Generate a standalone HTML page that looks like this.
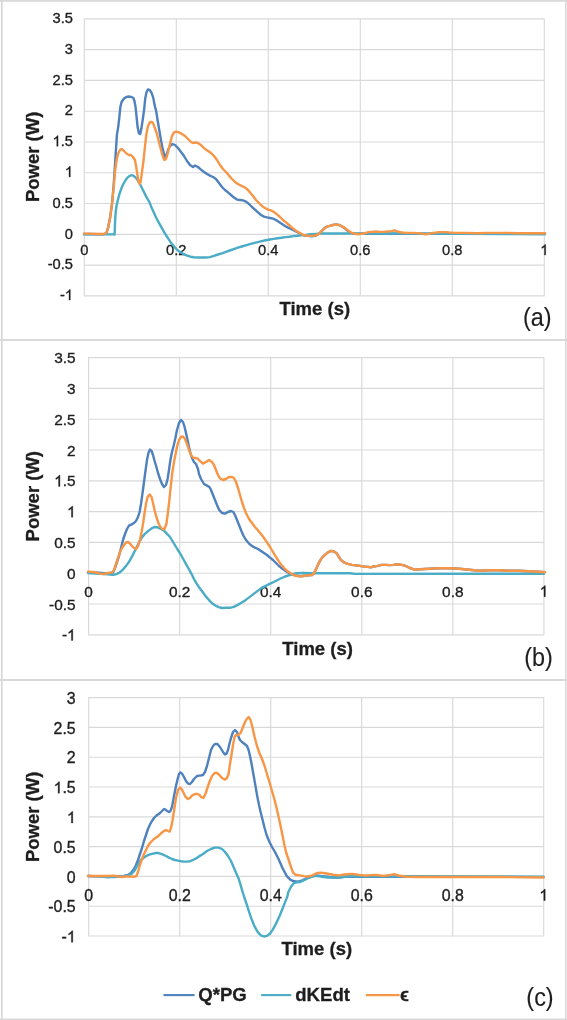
<!DOCTYPE html>
<html><head><meta charset="utf-8"><style>
html,body{margin:0;padding:0;background:#fff;}
body{width:567px;height:1020px;overflow:hidden;}
svg{display:block;will-change:transform;}
text{font-family:"Liberation Sans",sans-serif;}
</style></head><body>
<svg width="567" height="1020" viewBox="0 0 567 1020">
<rect x="0" y="0" width="567" height="1020" fill="#fff"/>

<g stroke="#D9D9D9" fill="none">
<line x1="1.8" y1="0" x2="1.8" y2="1020" stroke-width="1.8"/>
<line x1="565.8" y1="0" x2="565.8" y2="1020" stroke-width="1.6"/>
<line x1="0" y1="0.9" x2="567" y2="0.9" stroke-width="1.8"/>
<line x1="0" y1="340.0" x2="567" y2="340.0" stroke-width="2"/>
<line x1="0" y1="680.0" x2="567" y2="680.0" stroke-width="2"/>
<line x1="0" y1="1019.2" x2="567" y2="1019.2" stroke-width="1.6"/>
</g>
<g stroke="#D9D9D9" stroke-width="1.15" fill="none">
<line x1="84.3" y1="295.85" x2="544.3" y2="295.85"/>
<line x1="84.3" y1="265.07" x2="544.3" y2="265.07"/>
<line x1="84.3" y1="234.3" x2="544.3" y2="234.3"/>
<line x1="84.3" y1="203.53" x2="544.3" y2="203.53"/>
<line x1="84.3" y1="172.75" x2="544.3" y2="172.75"/>
<line x1="84.3" y1="141.98" x2="544.3" y2="141.98"/>
<line x1="84.3" y1="111.2" x2="544.3" y2="111.2"/>
<line x1="84.3" y1="80.43" x2="544.3" y2="80.43"/>
<line x1="84.3" y1="49.65" x2="544.3" y2="49.65"/>
<line x1="84.3" y1="18.88" x2="544.3" y2="18.88"/>
<line x1="84.3" y1="18.38" x2="84.3" y2="296.35"/>
<line x1="176.3" y1="18.38" x2="176.3" y2="296.35"/>
<line x1="268.3" y1="18.38" x2="268.3" y2="296.35"/>
<line x1="360.3" y1="18.38" x2="360.3" y2="296.35"/>
<line x1="452.3" y1="18.38" x2="452.3" y2="296.35"/>
<line x1="544.3" y1="18.38" x2="544.3" y2="296.35"/>
</g>
<g fill="#1E1E1E" font-size="14.7px" stroke="#1E1E1E" stroke-width="0.35">
<text x="73.0" y="300.1" text-anchor="end">-<tspan fill="transparent" stroke="none">1</tspan></text>
<text x="73.0" y="269.3" text-anchor="end">-0.5</text>
<text x="73.0" y="238.5" text-anchor="end">0</text>
<text x="73.0" y="207.7" text-anchor="end">0.5</text>
<text x="73.0" y="176.9" text-anchor="end"><tspan fill="transparent" stroke="none">1</tspan></text>
<text x="73.0" y="146.2" text-anchor="end"><tspan fill="transparent" stroke="none">1</tspan>.5</text>
<text x="73.0" y="115.4" text-anchor="end">2</text>
<text x="73.0" y="84.6" text-anchor="end">2.5</text>
<text x="73.0" y="53.9" text-anchor="end">3</text>
<text x="73.0" y="23.1" text-anchor="end">3.5</text>
<text x="84.3" y="255.0" text-anchor="middle">0</text>
<text x="176.3" y="255.0" text-anchor="middle">0.2</text>
<text x="268.3" y="255.0" text-anchor="middle">0.4</text>
<text x="360.3" y="255.0" text-anchor="middle">0.6</text>
<text x="452.3" y="255.0" text-anchor="middle">0.8</text>
<text x="544.3" y="255.0" text-anchor="middle"><tspan fill="transparent" stroke="none">1</tspan></text>
</g>
<text x="314.8" y="314.6" text-anchor="middle" font-size="18.5px" font-weight="bold" fill="#1E1E1E" stroke="#1E1E1E" stroke-width="0.3">Time (s)</text>
<text transform="translate(39.0,156.9) rotate(-90)" x="0" y="0" text-anchor="middle" font-size="18.5px" font-weight="bold" fill="#1E1E1E" stroke="#1E1E1E" stroke-width="0.3">Power (W)</text>
<text transform="translate(537.2,326.1) scale(0.9,1)" text-anchor="middle" font-size="26px" fill="#1E1E1E" stroke="#1E1E1E" stroke-width="0.15">(a)</text>
<path d="M84.0,234.0 L104.0,234.2 L106.4,233.2 L108.0,228.2 L110.0,218.2 L112.0,204.2 L113.6,186.0 L115.4,158.4 L116.2,145.9 L116.9,134.9 L118.2,127.1 L119.3,117.6 L120.4,106.7 L121.6,102.0 L124.0,98.5 L126.4,96.9 L128.7,96.5 L131.1,96.9 L133.4,98.0 L134.5,101.2 L135.5,106.7 L136.5,116.1 L137.6,127.1 L138.9,133.3 L140.2,134.1 L141.4,128.6 L142.8,119.2 L144.1,109.8 L145.2,98.8 L146.4,92.5 L148.0,89.4 L149.9,90.2 L151.8,93.3 L153.3,98.0 L154.6,105.1 L156.2,111.4 L157.7,120.8 L159.3,130.2 L160.9,139.6 L162.4,147.5 L165.0,158.0 L166.4,155.0 L168.0,150.0 L170.0,146.0 L172.4,144.0 L175.0,145.0 L178.0,148.0 L181.0,152.0 L184.0,156.0 L187.0,161.0 L190.0,165.0 L193.0,167.0 L195.0,165.6 L198.0,167.0 L201.0,169.6 L204.0,172.0 L207.0,174.0 L210.0,175.6 L213.0,177.0 L216.0,179.0 L219.0,183.0 L222.0,187.0 L225.0,190.0 L228.0,192.4 L231.0,195.0 L234.0,197.6 L237.0,199.6 L240.0,200.0 L243.0,200.4 L246.0,201.6 L249.0,204.0 L252.0,207.0 L255.0,209.6 L258.0,212.4 L261.0,215.0 L264.0,216.6 L267.0,217.4 L270.0,218.0 L273.0,218.6 L276.0,220.0 L279.0,222.0 L282.0,224.0 L285.0,226.0 L288.0,227.6 L291.0,229.0 L294.0,230.4 L297.0,232.0 L300.0,233.4 L303.9,235.5 L307.9,235.9 L311.9,236.3 L315.9,235.5 L318.9,233.9 L321.9,230.9 L324.9,227.9 L327.8,226.3 L331.8,225.3 L335.8,224.5 L338.8,224.9 L341.8,226.3 L344.8,228.3 L347.8,230.9 L350.8,232.9 L353.7,233.5 L361.7,233.7 L373.7,233.7 L402.9,233.7 L545.0,233.7" fill="none" stroke="#4F81BD" stroke-width="2.4" stroke-linejoin="round" stroke-linecap="round"/>
<path d="M84.0,234.4 L114.0,234.4 L114.6,234.5 L115.1,221.2 L115.7,211.8 L116.6,205.5 L117.7,200.8 L119.3,194.5 L120.9,189.8 L122.4,185.9 L124.5,182.0 L126.4,178.8 L128.7,176.5 L131.1,175.2 L133.4,175.7 L135.8,177.6 L138.1,180.9 L139.7,183.5 L142.0,188.2 L144.4,192.9 L146.7,197.6 L149.2,201.6 L151.3,206.9 L153.5,211.7 L155.6,216.5 L157.7,220.7 L159.8,224.4 L161.9,228.1 L164.0,231.8 L166.2,235.5 L168.3,238.7 L170.4,241.9 L172.5,244.5 L174.6,247.1 L176.7,249.3 L178.9,251.2 L181.0,252.6 L183.1,253.8 L185.2,254.8 L187.3,255.6 L190.5,256.7 L193.7,257.3 L197.9,257.5 L205.0,257.5 L205.9,257.5 L209.9,257.1 L213.9,255.9 L217.9,254.5 L221.9,253.3 L225.9,251.9 L229.8,250.5 L233.8,249.1 L237.8,247.7 L241.8,246.5 L245.8,245.3 L249.8,244.1 L253.7,243.1 L257.7,242.1 L261.7,241.1 L265.7,240.3 L269.7,239.5 L273.7,238.9 L277.6,238.3 L281.6,237.7 L285.6,237.1 L289.6,236.7 L293.6,236.1 L297.6,235.7 L302.9,235.1 L305.9,234.9 L309.9,234.3 L315.9,233.9 L321.9,233.5 L329.8,233.5 L402.9,233.5 L545.0,234.2" fill="none" stroke="#4BACC6" stroke-width="2.4" stroke-linejoin="round" stroke-linecap="round"/>
<path d="M84.0,233.6 L90.0,233.6 L96.0,234.0 L104.0,234.0 L106.4,233.0 L108.0,228.0 L110.0,218.0 L112.0,204.0 L114.0,184.0 L115.0,172.0 L116.0,164.0 L117.0,158.0 L118.4,153.0 L120.0,150.0 L121.6,149.0 L123.0,150.0 L125.0,152.0 L127.0,154.0 L129.0,155.0 L131.0,155.0 L133.0,157.0 L135.0,160.0 L136.4,168.0 L137.6,176.0 L138.6,182.0 L139.6,184.0 L140.6,182.0 L142.0,172.0 L143.6,160.0 L145.0,146.0 L146.4,134.0 L148.0,126.0 L150.0,122.0 L152.0,122.0 L153.6,124.4 L155.2,129.0 L157.0,134.0 L158.4,140.0 L160.0,146.0 L161.6,152.0 L163.0,157.0 L164.4,160.0 L166.0,159.0 L167.6,154.0 L169.0,148.0 L170.4,142.0 L172.0,136.0 L174.0,132.4 L176.4,131.6 L179.0,132.4 L182.0,134.0 L185.0,136.0 L188.0,139.0 L191.0,142.0 L193.0,143.0 L196.0,142.4 L199.0,143.6 L202.0,146.0 L205.0,149.0 L208.0,151.0 L211.0,153.0 L214.0,156.0 L217.0,160.0 L220.0,165.0 L223.0,169.0 L226.0,172.0 L229.0,175.6 L232.0,179.0 L235.0,182.0 L238.0,184.0 L241.0,185.6 L244.0,187.0 L247.0,189.0 L250.0,192.4 L253.0,196.0 L256.0,200.0 L259.0,203.0 L262.0,206.0 L265.0,208.0 L268.0,209.6 L271.0,210.4 L274.0,212.0 L277.0,214.4 L280.0,217.0 L283.0,220.0 L286.0,222.4 L289.0,225.0 L292.0,227.6 L295.0,230.0 L298.0,232.0 L302.0,234.3 L305.9,235.5 L309.9,235.9 L312.9,235.9 L315.9,235.3 L318.9,233.9 L321.9,230.9 L324.9,227.9 L327.8,226.3 L331.8,225.3 L335.8,224.5 L338.8,224.9 L341.8,226.3 L344.8,227.9 L347.8,230.3 L350.8,232.3 L353.7,233.5 L357.7,234.3 L360.7,233.9 L363.7,233.5 L367.7,232.3 L371.7,231.9 L375.7,231.5 L379.6,231.9 L383.6,231.9 L387.6,231.5 L391.6,231.1 L394.6,230.3 L397.6,231.5 L400.6,232.3 L405.1,232.9 L412.8,232.9 L420.5,233.4 L425.6,234.4 L430.7,233.4 L438.4,232.1 L446.0,232.1 L453.7,232.9 L466.5,232.9 L476.7,233.2 L487.0,232.9 L497.2,232.9 L507.4,232.9 L517.6,233.2 L527.9,233.2 L538.1,233.2 L545.0,233.2" fill="none" stroke="#F79646" stroke-width="2.4" stroke-linejoin="round" stroke-linecap="round"/>
<g stroke="#D9D9D9" stroke-width="1.15" fill="none">
<line x1="88.6" y1="634.8" x2="543.9" y2="634.8"/>
<line x1="88.6" y1="604.0" x2="543.9" y2="604.0"/>
<line x1="88.6" y1="573.2" x2="543.9" y2="573.2"/>
<line x1="88.6" y1="542.4" x2="543.9" y2="542.4"/>
<line x1="88.6" y1="511.6" x2="543.9" y2="511.6"/>
<line x1="88.6" y1="480.8" x2="543.9" y2="480.8"/>
<line x1="88.6" y1="450.0" x2="543.9" y2="450.0"/>
<line x1="88.6" y1="419.2" x2="543.9" y2="419.2"/>
<line x1="88.6" y1="388.4" x2="543.9" y2="388.4"/>
<line x1="88.6" y1="357.6" x2="543.9" y2="357.6"/>
<line x1="88.6" y1="357.10" x2="88.6" y2="635.30"/>
<line x1="179.66" y1="357.10" x2="179.66" y2="635.30"/>
<line x1="270.72" y1="357.10" x2="270.72" y2="635.30"/>
<line x1="361.78" y1="357.10" x2="361.78" y2="635.30"/>
<line x1="452.84" y1="357.10" x2="452.84" y2="635.30"/>
<line x1="543.9" y1="357.10" x2="543.9" y2="635.30"/>
</g>
<g fill="#1E1E1E" font-size="15.4px" stroke="#1E1E1E" stroke-width="0.35">
<text x="75.6" y="640.4" text-anchor="end">-<tspan fill="transparent" stroke="none">1</tspan></text>
<text x="75.6" y="609.6" text-anchor="end">-0.5</text>
<text x="75.6" y="578.8" text-anchor="end">0</text>
<text x="75.6" y="548.0" text-anchor="end">0.5</text>
<text x="75.6" y="517.2" text-anchor="end"><tspan fill="transparent" stroke="none">1</tspan></text>
<text x="75.6" y="486.4" text-anchor="end"><tspan fill="transparent" stroke="none">1</tspan>.5</text>
<text x="75.6" y="455.6" text-anchor="end">2</text>
<text x="75.6" y="424.8" text-anchor="end">2.5</text>
<text x="75.6" y="394.0" text-anchor="end">3</text>
<text x="75.6" y="363.2" text-anchor="end">3.5</text>
<text x="88.6" y="596.7" text-anchor="middle">0</text>
<text x="179.7" y="596.7" text-anchor="middle">0.2</text>
<text x="270.7" y="596.7" text-anchor="middle">0.4</text>
<text x="361.8" y="596.7" text-anchor="middle">0.6</text>
<text x="452.8" y="596.7" text-anchor="middle">0.8</text>
<text x="543.9" y="596.7" text-anchor="middle"><tspan fill="transparent" stroke="none">1</tspan></text>
</g>
<text x="317.6" y="654.6" text-anchor="middle" font-size="18.5px" font-weight="bold" fill="#1E1E1E" stroke="#1E1E1E" stroke-width="0.3">Time (s)</text>
<text transform="translate(39.3,496.2) rotate(-90)" x="0" y="0" text-anchor="middle" font-size="18.5px" font-weight="bold" fill="#1E1E1E" stroke="#1E1E1E" stroke-width="0.3">Power (W)</text>
<text transform="translate(538.6,666.0) scale(0.9,1)" text-anchor="middle" font-size="26px" fill="#1E1E1E" stroke="#1E1E1E" stroke-width="0.15">(b)</text>
<path d="M88.0,572.4 L96.0,572.4 L104.0,573.2 L110.0,573.2 L113.0,572.4 L115.0,568.0 L117.0,562.0 L119.0,556.0 L121.0,548.0 L123.0,540.0 L125.0,534.0 L127.0,529.0 L129.0,525.6 L131.6,524.4 L134.0,523.0 L136.0,521.0 L138.0,517.0 L139.6,512.0 L141.0,504.0 L142.4,494.0 L144.0,482.0 L145.6,470.0 L147.0,460.0 L148.4,453.0 L150.0,449.6 L151.6,451.0 L153.0,455.0 L154.6,461.0 L156.4,467.0 L158.0,473.0 L160.0,479.0 L162.0,484.0 L164.0,487.0 L166.0,485.0 L167.6,479.0 L169.0,470.0 L170.4,460.0 L172.0,452.0 L173.6,446.0 L175.2,439.0 L177.0,430.0 L179.0,423.0 L181.0,420.0 L183.0,422.0 L184.6,427.0 L186.0,433.0 L187.6,440.0 L189.0,447.0 L190.4,453.0 L192.0,458.0 L194.0,462.0 L196.0,464.0 L198.0,469.0 L199.0,474.0 L201.0,479.0 L204.0,484.0 L207.0,485.6 L209.4,487.0 L211.0,490.0 L213.0,495.0 L215.0,500.0 L217.0,505.0 L219.0,509.6 L222.0,513.0 L225.0,513.6 L228.0,512.0 L231.0,511.0 L233.4,512.0 L235.4,516.0 L237.4,521.0 L239.4,526.0 L241.4,531.0 L243.4,535.6 L246.0,540.0 L249.0,543.6 L252.0,546.0 L255.0,547.6 L258.0,549.0 L261.0,551.0 L264.0,553.0 L267.0,555.0 L270.0,557.6 L273.0,560.0 L276.0,563.0 L279.0,566.0 L282.0,568.4 L285.0,570.4 L288.0,572.4 L291.0,574.0 L294.0,575.0 L297.0,575.6 L300.0,576.4 L303.0,576.0 L304.0,575.8 L308.0,575.4 L312.0,575.0 L313.9,573.4 L315.9,569.4 L317.9,564.9 L319.9,560.9 L321.9,557.9 L324.9,554.9 L327.9,552.3 L330.9,550.9 L333.9,551.5 L336.9,553.5 L338.8,556.9 L340.8,559.9 L343.8,562.3 L347.8,563.9 L351.8,564.9 L355.8,565.3 L359.8,565.9 L363.7,566.5 L367.7,566.9 L370.7,567.3 L373.7,566.5 L377.7,565.9 L381.7,564.9 L385.7,564.9 L389.6,565.1 L393.6,564.9 L397.6,564.3 L401.6,564.9 L404.6,565.5 L407.6,566.9 L409.9,567.8 L414.9,569.8 L419.8,569.3 L429.7,568.8 L439.6,568.3 L449.4,568.3 L459.3,568.8 L469.2,569.8 L479.1,570.7 L489.0,570.2 L498.8,570.2 L508.7,570.7 L518.6,570.7 L528.5,571.2 L538.3,571.7 L545.0,572.2" fill="none" stroke="#4F81BD" stroke-width="2.4" stroke-linejoin="round" stroke-linecap="round"/>
<path d="M88.0,573.0 L96.0,573.6 L104.0,574.0 L108.0,574.4 L110.0,574.6 L113.2,574.9 L116.3,574.1 L119.5,572.5 L122.7,569.8 L125.9,566.1 L129.0,561.9 L132.2,556.1 L135.4,549.7 L138.6,543.4 L141.7,537.6 L144.9,533.9 L148.1,531.2 L151.3,528.6 L154.4,527.0 L157.6,527.3 L160.8,528.8 L164.0,530.7 L167.1,533.9 L170.0,537.0 L177.9,550.0 L180.6,554.2 L183.2,559.0 L185.9,563.8 L188.5,568.5 L191.2,573.3 L193.8,578.6 L196.5,583.3 L199.6,588.1 L202.8,592.3 L206.0,596.6 L209.2,600.3 L212.3,603.4 L215.5,605.6 L218.7,607.1 L221.9,608.0 L225.9,607.8 L229.8,607.8 L233.8,606.9 L237.8,604.9 L241.8,602.5 L245.8,599.9 L249.8,596.9 L253.7,593.9 L257.7,590.9 L261.7,587.9 L265.7,585.9 L269.7,583.9 L273.7,582.0 L277.6,580.0 L281.6,578.0 L285.6,576.4 L289.6,575.0 L293.6,573.8 L297.6,573.2 L302.9,573.0 L312.0,573.2 L350.0,573.3 L355.0,573.9 L543.9,573.8" fill="none" stroke="#4BACC6" stroke-width="2.4" stroke-linejoin="round" stroke-linecap="round"/>
<path d="M88.0,571.6 L94.0,572.0 L100.0,573.6 L104.0,574.0 L108.0,573.0 L112.0,572.4 L114.0,570.0 L116.0,564.0 L118.0,558.0 L120.0,552.0 L122.0,548.0 L124.0,545.0 L126.0,542.4 L128.0,542.0 L130.0,543.6 L132.0,546.0 L134.0,548.0 L136.0,549.0 L138.0,546.0 L140.0,540.0 L141.6,532.0 L143.0,524.0 L144.4,514.0 L146.0,504.0 L147.6,497.0 L149.6,494.4 L151.6,497.0 L153.2,504.0 L154.8,511.0 L156.4,517.0 L158.4,523.0 L160.4,527.0 L162.4,529.0 L164.4,529.0 L166.4,524.0 L168.0,512.0 L169.6,498.0 L171.0,484.0 L172.4,472.0 L174.0,462.0 L175.6,454.0 L177.2,446.0 L179.0,440.0 L181.0,437.0 L183.0,436.4 L185.0,439.0 L187.0,444.0 L189.0,450.0 L191.0,455.0 L193.0,457.6 L195.0,458.0 L197.0,458.4 L197.4,458.4 L200.0,461.0 L203.0,463.6 L206.0,462.0 L209.0,460.0 L212.0,462.0 L214.0,465.0 L216.0,470.0 L218.0,475.0 L220.0,478.4 L223.0,480.0 L226.0,479.0 L229.0,477.0 L232.0,477.0 L234.0,478.0 L236.0,482.0 L238.0,488.0 L240.0,495.0 L242.0,502.0 L244.0,508.0 L246.0,513.0 L249.0,519.0 L252.0,523.0 L255.0,527.0 L258.0,530.4 L261.0,534.0 L264.0,538.0 L267.0,542.4 L270.0,547.0 L273.0,552.0 L276.0,557.0 L279.0,561.6 L282.0,565.6 L285.0,569.0 L288.0,571.6 L291.0,573.6 L294.0,575.0 L297.0,576.0 L300.0,576.4 L303.0,576.0 L304.0,575.8 L308.0,575.4 L312.0,575.0 L313.9,573.4 L315.9,569.4 L317.9,564.9 L319.9,560.9 L321.9,557.9 L324.9,554.9 L327.9,552.3 L330.9,550.9 L333.9,551.5 L336.9,553.5 L338.8,556.9 L340.8,559.9 L343.8,562.3 L347.8,563.9 L351.8,564.9 L355.8,565.3 L359.8,565.9 L363.7,566.5 L367.7,566.9 L370.7,567.3 L373.7,566.5 L377.7,565.9 L381.7,564.9 L385.7,564.9 L389.6,565.1 L393.6,564.9 L397.6,564.3 L401.6,564.9 L404.6,565.5 L407.6,566.9 L409.9,567.8 L414.9,569.8 L419.8,569.3 L429.7,568.8 L439.6,568.3 L449.4,568.3 L459.3,568.8 L469.2,569.8 L479.1,570.7 L489.0,570.2 L498.8,570.2 L508.7,570.7 L518.6,570.7 L528.5,571.2 L538.3,571.7 L545.0,572.2" fill="none" stroke="#F79646" stroke-width="2.4" stroke-linejoin="round" stroke-linecap="round"/>
<g stroke="#D9D9D9" stroke-width="1.15" fill="none">
<line x1="88.7" y1="936.0" x2="543.7" y2="936.0"/>
<line x1="88.7" y1="906.2" x2="543.7" y2="906.2"/>
<line x1="88.7" y1="876.4" x2="543.7" y2="876.4"/>
<line x1="88.7" y1="846.6" x2="543.7" y2="846.6"/>
<line x1="88.7" y1="816.8" x2="543.7" y2="816.8"/>
<line x1="88.7" y1="787.0" x2="543.7" y2="787.0"/>
<line x1="88.7" y1="757.2" x2="543.7" y2="757.2"/>
<line x1="88.7" y1="727.4" x2="543.7" y2="727.4"/>
<line x1="88.7" y1="697.6" x2="543.7" y2="697.6"/>
<line x1="88.7" y1="697.10" x2="88.7" y2="936.50"/>
<line x1="179.7" y1="697.10" x2="179.7" y2="936.50"/>
<line x1="270.7" y1="697.10" x2="270.7" y2="936.50"/>
<line x1="361.7" y1="697.10" x2="361.7" y2="936.50"/>
<line x1="452.7" y1="697.10" x2="452.7" y2="936.50"/>
<line x1="543.7" y1="697.10" x2="543.7" y2="936.50"/>
</g>
<g fill="#1E1E1E" font-size="15.9px" stroke="#1E1E1E" stroke-width="0.35">
<text x="75.7" y="942.2" text-anchor="end">-<tspan fill="transparent" stroke="none">1</tspan></text>
<text x="75.7" y="912.4" text-anchor="end">-0.5</text>
<text x="75.7" y="882.6" text-anchor="end">0</text>
<text x="75.7" y="852.8" text-anchor="end">0.5</text>
<text x="75.7" y="823.0" text-anchor="end"><tspan fill="transparent" stroke="none">1</tspan></text>
<text x="75.7" y="793.2" text-anchor="end"><tspan fill="transparent" stroke="none">1</tspan>.5</text>
<text x="75.7" y="763.4" text-anchor="end">2</text>
<text x="75.7" y="733.6" text-anchor="end">2.5</text>
<text x="75.7" y="703.8" text-anchor="end">3</text>
<text x="88.7" y="900.6" text-anchor="middle">0</text>
<text x="179.7" y="900.6" text-anchor="middle">0.2</text>
<text x="270.7" y="900.6" text-anchor="middle">0.4</text>
<text x="361.7" y="900.6" text-anchor="middle">0.6</text>
<text x="452.7" y="900.6" text-anchor="middle">0.8</text>
<text x="543.7" y="900.6" text-anchor="middle"><tspan fill="transparent" stroke="none">1</tspan></text>
</g>
<text x="316.8" y="955.4" text-anchor="middle" font-size="18.5px" font-weight="bold" fill="#1E1E1E" stroke="#1E1E1E" stroke-width="0.3">Time (s)</text>
<text transform="translate(39.3,816.9) rotate(-90)" x="0" y="0" text-anchor="middle" font-size="18.5px" font-weight="bold" fill="#1E1E1E" stroke="#1E1E1E" stroke-width="0.3">Power (W)</text>
<text transform="translate(540.0,1005.9) scale(0.9,1)" text-anchor="middle" font-size="26px" fill="#1E1E1E" stroke="#1E1E1E" stroke-width="0.15">(c)</text>
<path d="M88.0,876.0 L98.0,876.4 L108.0,877.0 L118.0,876.4 L124.0,876.0 L128.0,875.0 L131.0,873.0 L134.0,869.0 L136.0,865.0 L138.0,860.0 L140.0,854.0 L142.0,848.0 L144.0,841.0 L146.0,835.0 L148.0,829.0 L150.0,824.4 L152.0,821.0 L154.0,818.0 L156.0,816.0 L158.0,814.4 L160.0,813.0 L162.0,811.0 L164.0,809.0 L165.6,809.6 L167.0,811.0 L169.0,812.0 L170.4,811.0 L172.0,807.0 L174.0,796.0 L176.0,786.0 L177.6,779.0 L179.0,774.0 L180.4,772.4 L182.0,773.6 L184.0,777.0 L186.0,781.0 L188.0,783.6 L190.0,784.0 L192.0,782.0 L194.0,779.0 L197.0,776.0 L199.0,775.6 L200.0,775.6 L203.0,775.0 L205.0,772.0 L207.0,766.0 L209.0,758.0 L211.0,750.0 L213.0,746.0 L215.0,744.0 L217.4,744.0 L220.0,747.0 L223.0,752.0 L225.0,754.4 L226.6,753.6 L228.0,750.0 L229.4,744.0 L231.0,738.0 L233.0,732.0 L235.0,730.0 L237.0,732.0 L238.6,737.0 L240.0,740.0 L242.0,742.0 L244.6,744.0 L247.0,746.0 L248.6,750.0 L250.0,756.0 L251.6,764.0 L253.0,772.0 L254.6,781.0 L256.0,789.0 L257.4,797.0 L259.0,805.0 L260.6,812.0 L262.6,820.0 L264.6,828.0 L266.6,835.0 L269.0,841.0 L272.0,847.0 L275.0,852.0 L278.0,858.0 L278.3,858.5 L282.6,868.3 L286.8,876.1 L290.3,879.6 L293.9,881.3 L298.1,881.7 L302.3,880.3 L306.5,878.2 L310.8,876.8 L316.4,875.4 L322.1,876.1 L327.7,876.8 L333.3,877.5 L340.0,877.5 L344.8,876.7 L407.9,876.7" fill="none" stroke="#4F81BD" stroke-width="2.4" stroke-linejoin="round" stroke-linecap="round"/>
<path d="M88.0,876.0 L98.0,876.4 L106.0,877.0 L114.0,877.0 L122.0,876.4 L128.0,875.6 L132.0,873.6 L135.0,870.0 L137.0,866.0 L139.0,863.0 L141.0,860.0 L144.0,857.6 L147.0,855.6 L150.0,854.4 L153.0,853.6 L156.0,853.0 L158.0,853.0 L160.4,853.6 L163.0,854.6 L166.0,856.0 L169.0,857.6 L172.0,859.0 L175.0,860.0 L178.0,860.6 L181.0,861.2 L184.0,861.6 L187.0,861.6 L190.0,861.2 L193.0,860.0 L196.0,858.4 L199.0,856.4 L203.0,854.0 L207.0,851.0 L211.0,849.0 L215.0,847.6 L218.6,847.6 L222.0,849.0 L225.0,852.0 L228.0,856.0 L231.0,861.0 L234.0,868.0 L237.0,875.0 L238.6,878.5 L240.5,884.7 L242.3,890.9 L244.2,897.0 L246.7,904.4 L249.1,911.9 L251.6,919.3 L254.7,926.7 L257.8,932.2 L260.9,935.3 L264.0,936.5 L267.0,935.9 L270.1,933.5 L272.6,929.8 L275.1,925.4 L277.5,920.5 L280.0,914.9 L282.5,908.8 L284.9,902.6 L287.4,896.4 L288.2,892.3 L291.0,886.7 L293.9,883.1 L297.4,882.2 L300.9,881.7 L305.1,879.6 L309.4,877.5 L313.6,876.1 L317.8,876.1 L322.1,876.8 L327.7,877.5 L333.3,877.5 L340.0,877.2 L342.8,876.9 L346.8,876.5 L350.8,876.3 L354.8,876.3 L407.9,876.3 L543.7,876.6" fill="none" stroke="#4BACC6" stroke-width="2.4" stroke-linejoin="round" stroke-linecap="round"/>
<path d="M88.0,876.0 L98.0,876.0 L108.0,876.0 L114.0,875.6 L118.0,876.4 L122.0,877.0 L128.0,876.4 L134.0,876.8 L136.4,876.0 L138.0,872.0 L139.6,866.0 L141.6,860.0 L144.0,854.0 L146.0,850.0 L148.0,846.0 L150.0,843.0 L152.0,841.0 L154.0,839.0 L156.0,837.6 L158.0,836.4 L160.0,834.4 L162.0,832.4 L164.0,831.0 L166.0,830.0 L168.0,831.0 L169.6,831.6 L171.0,828.0 L172.4,821.0 L174.0,811.0 L176.0,798.0 L178.0,790.0 L180.0,787.6 L181.6,789.0 L183.6,793.0 L185.6,797.0 L188.0,799.0 L190.0,798.0 L192.0,795.6 L195.0,794.0 L197.6,794.0 L199.6,795.0 L201.0,797.0 L203.4,798.0 L205.4,794.0 L207.4,788.0 L209.4,782.0 L212.0,776.0 L214.6,773.0 L217.0,773.0 L219.4,775.0 L222.0,778.0 L225.0,779.6 L227.0,778.0 L228.6,774.0 L230.0,764.0 L231.6,754.0 L233.0,745.0 L234.6,737.0 L236.0,735.0 L238.0,735.0 L240.6,733.0 L242.6,728.0 L244.6,723.0 L246.6,719.0 L248.6,717.0 L250.6,720.0 L252.6,728.0 L254.6,737.0 L257.0,746.0 L259.4,753.0 L262.0,759.0 L264.6,766.0 L267.0,774.0 L269.4,782.0 L272.0,791.0 L274.6,800.0 L276.6,808.0 L278.6,817.0 L280.6,826.0 L282.6,836.0 L284.6,846.0 L286.6,854.0 L288.2,858.5 L291.0,866.9 L293.1,872.6 L295.3,874.7 L299.5,875.4 L303.7,876.1 L308.0,876.5 L312.2,875.4 L316.4,873.3 L320.6,872.6 L324.9,873.3 L329.1,874.0 L333.3,874.7 L340.0,875.4 L342.8,874.7 L346.8,874.3 L350.8,873.9 L354.8,874.3 L358.7,874.9 L362.7,875.3 L366.7,875.5 L370.7,875.1 L374.7,874.9 L378.7,875.3 L382.6,875.9 L386.6,875.5 L390.6,874.9 L394.6,874.3 L398.6,875.5 L402.6,876.3 L407.9,876.9 L420.0,877.0 L460.0,877.0 L500.0,877.0 L543.7,877.5" fill="none" stroke="#F79646" stroke-width="2.4" stroke-linejoin="round" stroke-linecap="round"/>
<g stroke-width="2.1">
<line x1="163.5" y1="995.1" x2="194.6" y2="995.1" stroke="#4F81BD"/>
<line x1="261.1" y1="995.1" x2="291.3" y2="995.1" stroke="#4BACC6"/>
<line x1="365.9" y1="995.1" x2="399.6" y2="995.1" stroke="#F79646"/>
</g>
<g font-size="18.6px" font-weight="bold" fill="#1E1E1E" stroke="#1E1E1E" stroke-width="0.3">
<text x="198.2" y="1001.0">Q*PG</text>
<text x="295.2" y="1001.0">dKEdt</text>
<text x="399.9" y="1001.0">&#x3F5;</text>
</g>
<g><path transform="translate(64.83,300.10) scale(0.00718,-0.00718)" d="M763,0 L583,0 L583,1147 Q518,1085 412,1023 Q307,961 223,930 L223,1104 Q374,1175 487,1276 Q600,1377 647,1472 L763,1472 Z" fill="#1E1E1E" stroke="#1E1E1E" stroke-width="48.8"/><path transform="translate(64.83,176.90) scale(0.00718,-0.00718)" d="M763,0 L583,0 L583,1147 Q518,1085 412,1023 Q307,961 223,930 L223,1104 Q374,1175 487,1276 Q600,1377 647,1472 L763,1472 Z" fill="#1E1E1E" stroke="#1E1E1E" stroke-width="48.8"/><path transform="translate(52.58,146.20) scale(0.00718,-0.00718)" d="M763,0 L583,0 L583,1147 Q518,1085 412,1023 Q307,961 223,930 L223,1104 Q374,1175 487,1276 Q600,1377 647,1472 L763,1472 Z" fill="#1E1E1E" stroke="#1E1E1E" stroke-width="48.8"/><path transform="translate(540.21,255.00) scale(0.00718,-0.00718)" d="M763,0 L583,0 L583,1147 Q518,1085 412,1023 Q307,961 223,930 L223,1104 Q374,1175 487,1276 Q600,1377 647,1472 L763,1472 Z" fill="#1E1E1E" stroke="#1E1E1E" stroke-width="48.8"/><path transform="translate(67.04,640.40) scale(0.00752,-0.00752)" d="M763,0 L583,0 L583,1147 Q518,1085 412,1023 Q307,961 223,930 L223,1104 Q374,1175 487,1276 Q600,1377 647,1472 L763,1472 Z" fill="#1E1E1E" stroke="#1E1E1E" stroke-width="46.5"/><path transform="translate(67.04,517.20) scale(0.00752,-0.00752)" d="M763,0 L583,0 L583,1147 Q518,1085 412,1023 Q307,961 223,930 L223,1104 Q374,1175 487,1276 Q600,1377 647,1472 L763,1472 Z" fill="#1E1E1E" stroke="#1E1E1E" stroke-width="46.5"/><path transform="translate(54.19,486.40) scale(0.00752,-0.00752)" d="M763,0 L583,0 L583,1147 Q518,1085 412,1023 Q307,961 223,930 L223,1104 Q374,1175 487,1276 Q600,1377 647,1472 L763,1472 Z" fill="#1E1E1E" stroke="#1E1E1E" stroke-width="46.5"/><path transform="translate(539.62,596.70) scale(0.00752,-0.00752)" d="M763,0 L583,0 L583,1147 Q518,1085 412,1023 Q307,961 223,930 L223,1104 Q374,1175 487,1276 Q600,1377 647,1472 L763,1472 Z" fill="#1E1E1E" stroke="#1E1E1E" stroke-width="46.5"/><path transform="translate(66.86,942.20) scale(0.00776,-0.00776)" d="M763,0 L583,0 L583,1147 Q518,1085 412,1023 Q307,961 223,930 L223,1104 Q374,1175 487,1276 Q600,1377 647,1472 L763,1472 Z" fill="#1E1E1E" stroke="#1E1E1E" stroke-width="45.1"/><path transform="translate(66.86,823.00) scale(0.00776,-0.00776)" d="M763,0 L583,0 L583,1147 Q518,1085 412,1023 Q307,961 223,930 L223,1104 Q374,1175 487,1276 Q600,1377 647,1472 L763,1472 Z" fill="#1E1E1E" stroke="#1E1E1E" stroke-width="45.1"/><path transform="translate(53.59,793.20) scale(0.00776,-0.00776)" d="M763,0 L583,0 L583,1147 Q518,1085 412,1023 Q307,961 223,930 L223,1104 Q374,1175 487,1276 Q600,1377 647,1472 L763,1472 Z" fill="#1E1E1E" stroke="#1E1E1E" stroke-width="45.1"/><path transform="translate(539.28,900.60) scale(0.00776,-0.00776)" d="M763,0 L583,0 L583,1147 Q518,1085 412,1023 Q307,961 223,930 L223,1104 Q374,1175 487,1276 Q600,1377 647,1472 L763,1472 Z" fill="#1E1E1E" stroke="#1E1E1E" stroke-width="45.1"/></g>
</svg>
</body></html>
